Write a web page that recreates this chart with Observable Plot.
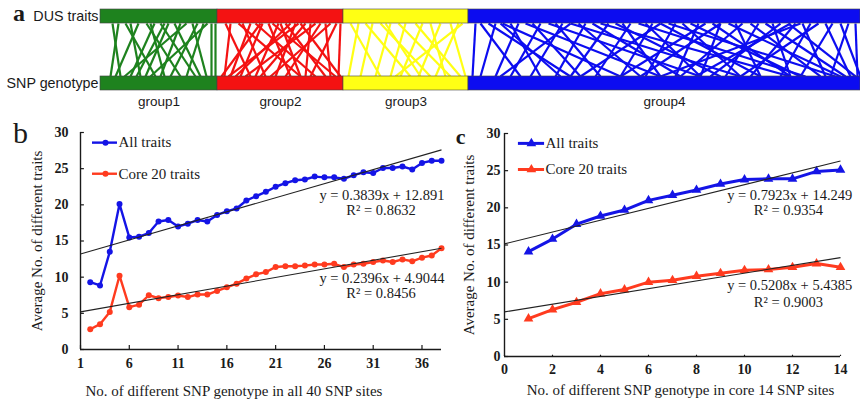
<!DOCTYPE html>
<html><head><meta charset="utf-8">
<script src="https://cdn.jsdelivr.net/npm/d3@7"></script>
<script src="https://cdn.jsdelivr.net/npm/@observablehq/plot@0.6"></script>
<style>
body{margin:0;background:#fff}
#fig{position:relative;width:860px;height:402px;overflow:hidden;background:#fff}
#fig > div{position:absolute}
</style></head><body>
<div id="fig"><div id="pa" style="left:0;top:0"></div><div id="pb" style="left:0;top:110px"></div><div id="pc" style="left:450px;top:110px"></div></div>
<script>
// ---------- Panel a data ----------
const groupNames = ["group1", "group2", "group3", "group4"];
const groupStart = [0, 117, 243, 368];
const groupEnd = [117, 243, 368, 760];
const groupColors = ["#1e821e", "#f41212", "#ffff14", "#0c0cf0"];
const rowLabels = ["DUS traits", "SNP genotype"];
// links: [position on DUS-trait bar, position on SNP-genotype bar]
const linksG1 = [[12,20],[18,10],[25,55],[30,40],[38,15],[46,80],[54,30],[60,95],[68,45],[74,100],[80,60],[86,24],[92,106],[97,70],[103,86],[107,50],[111,111],[115,115],[50,64],[64,36]];
const linksG2 = [[125,150],[130,124],[138,200],[142,165],[150,130],[155,215],[162,140],[168,190],[172,235],[178,155],[185,225],[190,135],[195,175],[200,240],[205,160],[210,205],[215,145],[220,185],[225,230],[230,170],[236,210],[240,238],[160,121],[180,200],[198,128]];
const linksG3 = [[250,280],[258,248],[265,310],[272,260],[280,330],[290,275],[298,350],[305,290],[315,360],[322,300],[330,345],[340,318],[350,365],[358,335],[362,295],[285,320]];
const linksG4 = [[375,372],[380,420],[388,470],[395,380],[402,520],[410,440],[418,395],[425,560],[432,480],[440,410],[448,600],[455,500],[462,430],[470,640],[478,540],[485,455],[492,580],[500,690],[508,470],[515,620],[522,560],[530,495],[538,705],[545,600],[552,520],[560,660],[568,735],[575,545],[582,640],[590,700],[598,575],[605,520],[612,690],[620,600],[628,740],[635,660],[642,580],[650,720],[658,625],[665,745],[672,690],[680,610],[688,755],[695,650],[702,725],[710,680],[718,640],[725,750],[732,700],[740,760],[748,730],[755,757],[400,460],[470,400],[560,480],[700,560],[620,540],[690,595]];

// ---------- Panel b data ----------
const snpCountB = [2,3,4,5,6,7,8,9,10,11,12,13,14,15,16,17,18,19,20,21,22,23,24,25,26,27,28,29,30,31,32,33,34,35,36,37,38];
const allTraitsB = [9.3,8.85,13.5,20.1,15.5,15.6,16.1,17.7,17.9,17.0,17.4,17.9,17.7,18.6,19.1,19.5,20.6,21.2,21.8,22.5,23.0,23.4,23.5,23.9,23.8,23.8,23.6,24.1,24.5,24.4,25.1,25.1,25.3,24.9,25.8,26.1,26.1];
const core20B = [2.8,3.5,5.2,10.2,5.85,6.2,7.5,7.1,7.25,7.45,7.25,7.6,7.6,8.1,8.6,9.1,9.8,10.4,10.7,11.4,11.5,11.5,11.6,11.75,11.75,11.85,11.4,11.75,11.85,12.1,12.3,12.1,12.45,12.2,12.7,13.0,14.0];
const xTicksB = [1,6,11,16,21,26,31,36];
const yTicks = [0,5,10,15,20,25,30];
const eqB = [{slope:"0.3839", intercept:"12.891", r2:"0.8632"}, {slope:"0.2396", intercept:"4.9044", r2:"0.8456"}];
const trendB = [{xa:1, ya:13.2, xb:38, yb:27.6}, {xa:1, ya:5.2, xb:38, yb:14.0}];

// ---------- Panel c data ----------
const snpCountC = [1,2,3,4,5,6,7,8,9,10,11,12,13,14];
const allTraitsC = [14.1,15.8,17.8,18.9,19.7,21.0,21.7,22.4,23.2,23.8,23.9,23.9,24.9,25.1];
const core20C = [5.1,6.3,7.3,8.45,9.0,10.0,10.25,10.8,11.2,11.6,11.7,12.0,12.5,12.0];
const xTicksC = [0,2,4,6,8,10,12,14];
const eqC = [{slope:"0.7923", intercept:"14.249", r2:"0.9354"}, {slope:"0.5208", intercept:"5.4385", r2:"0.9003"}];
const trendC = [{xa:0, ya:15.15, xb:14, yb:26.3}, {xa:0, ya:6.0, xb:14, yb:13.3}];

const seriesNames = ["All traits", "Core 20 traits"];
const seriesColors = ["#1414e6", "#ff3b1f"];
const yTitle = "Average No. of different traits";
const xTitleB = "No. of different SNP genotype in all 40 SNP sites";
const xTitleC = "No. of different SNP genotype in core 14 SNP sites";

const SERIF = "'Liberation Serif', 'Times New Roman', serif";
const SANS = "'Liberation Sans', Arial, sans-serif";
const INK = "#1a1a1a";
const MID = {textAnchor: "middle", lineAnchor: "middle"};

// ---------- Panel a ----------
const groups = groupNames.map((name, i) => ({name, start: groupStart[i], end: groupEnd[i], color: groupColors[i]}));
const links = [linksG1, linksG2, linksG3, linksG4].flatMap((ls, i) => ls.map(([t, b]) => ({top: t, bottom: b, color: groupColors[i]})));
const pa = Plot.plot({
  width: 860, height: 110, marginLeft: 100, marginRight: 0, marginTop: 9, marginBottom: 20,
  x: {domain: [0, 760], axis: null}, y: {domain: [0, 1], axis: null}, color: {type: "identity"},
  style: {fontFamily: SANS, fontSize: "13px", color: INK, background: "transparent", overflow: "visible"},
  marks: [
    Plot.link(links, {x1: "top", x2: "bottom", y1: () => 0.827, y2: () => 0.173, stroke: "color", strokeWidth: 2.2}),
    Plot.rect(groups, {x1: "start", x2: "end", y1: () => 0.827, y2: () => 1, fill: "color", stroke: "#444", strokeWidth: 0.6}),
    Plot.rect(groups, {x1: "start", x2: "end", y1: () => 0, y2: () => 0.173, fill: "color", stroke: "#444", strokeWidth: 0.6}),
    Plot.text(groups, {x: d => (d.start + d.end) / 2, y: () => 0, dy: 11, text: "name", fontSize: 13.5, fill: INK, ...MID}),
    Plot.text(rowLabels, {x: () => 0, y: (d, i) => i === 0 ? 0.913 : 0.087, text: d => d, textAnchor: "end", lineAnchor: "middle", dx: -2, fontSize: 14.3, fill: INK}),
    Plot.text(["a"], {frameAnchor: "top-left", text: d => d, dx: -81.5, dy: 4, fontSize: 24, fontWeight: "bold", fontFamily: SERIF, fill: INK, ...MID})
  ]
});
document.getElementById("pa").append(pa);

// ---------- helper for line panels ----------
function linePanel({x, seriesA, seriesB, xDomain, xTicks, margins, width, height, symbol, r, lw, trend, eq, eqPos, legendPos, xTitle, xTitleDx, xTitleDy, yTitleDx, letter, letterDx, letterDy, letterWeight, letterSize, tickPadX, tickPadY, tickLenX, tickLenY}) {
  const dataA = x.map((v, i) => ({x: v, y: seriesA[i]}));
  const dataB = x.map((v, i) => ({x: v, y: seriesB[i]}));
  const legend = seriesNames.map((label, i) => ({label, color: seriesColors[i]}));
  return Plot.plot({
    width, height, ...margins,
    x: {domain: xDomain}, y: {domain: [0, 30]},
    style: {fontFamily: SERIF, fontSize: "14px", color: INK, background: "transparent", overflow: "visible"},
    marks: [
      Plot.axisX({ticks: xTicks, tickSize: 0, tickPadding: tickPadX, fontWeight: "bold", fontSize: 14, label: null, tickFormat: d => String(d)}),
      Plot.axisY({ticks: yTicks, tickSize: 0, tickPadding: tickPadY, fontWeight: "bold", fontSize: 14, label: null, tickFormat: d => String(d)}),
      Plot.ruleX(xTicks, {x: d => d, y1: () => 0, y2: () => tickLenX, stroke: INK, strokeWidth: 1.2}),
      Plot.ruleY(yTicks, {y: d => d, x1: () => xDomain[0], x2: () => xDomain[0] + tickLenY, stroke: INK, strokeWidth: 1.2}),
      Plot.ruleY([0], {stroke: INK, strokeWidth: 1.4}),
      Plot.ruleX([xDomain[0]], {stroke: INK, strokeWidth: 1.4}),
      Plot.line(dataA, {x: "x", y: "y", stroke: seriesColors[0], strokeWidth: lw}),
      Plot.dot(dataA, {x: "x", y: "y", fill: seriesColors[0], r, symbol}),
      Plot.line(dataB, {x: "x", y: "y", stroke: seriesColors[1], strokeWidth: lw}),
      Plot.dot(dataB, {x: "x", y: "y", fill: seriesColors[1], r, symbol}),
      Plot.link(trend, {x1: "xa", y1: "ya", x2: "xb", y2: "yb", stroke: "#222", strokeWidth: 1.1}),
      // legend
      Plot.ruleY(legend, {y: (d, i) => legendPos.y[i], x1: () => legendPos.x1, x2: () => legendPos.x2, stroke: "color", strokeWidth: lw}),
      Plot.dot(legend, {x: () => legendPos.xm, y: (d, i) => legendPos.y[i], fill: "color", r, symbol}),
      Plot.text(legend, {x: () => legendPos.xt, y: (d, i) => legendPos.y[i], text: "label", textAnchor: "start", lineAnchor: "middle", fontSize: 15, fill: INK}),
      // equations
      Plot.text(eq, {x: () => eqPos.xe, y: (d, i) => eqPos.ye[i], text: d => `y = ${d.slope}x + ${d.intercept}`, textAnchor: "end", lineAnchor: "middle", dx: eqPos.dx, fontSize: 14.5, fill: INK}),
      Plot.text(eq, {x: () => eqPos.xr, y: (d, i) => eqPos.yr[i], text: d => `R² = ${d.r2}`, fontSize: 14.5, fill: INK, ...MID}),
      // titles
      Plot.text([xTitle], {frameAnchor: "bottom", text: d => d, dx: xTitleDx, dy: xTitleDy, fontSize: 15, fill: INK, ...MID}),
      Plot.text([yTitle], {frameAnchor: "left", text: d => d, rotate: -90, dx: yTitleDx, fontSize: 15, fill: INK, ...MID}),
      Plot.text([letter], {frameAnchor: "top-left", text: d => d, dx: letterDx, dy: letterDy, fontSize: letterSize, fontWeight: letterWeight, fill: INK, ...MID})
    ],
    color: {type: "identity"}
  });
}

const pb = linePanel({
  x: snpCountB, seriesA: allTraitsB, seriesB: core20B, xDomain: [1, 38], xTicks: xTicksB,
  margins: {marginLeft: 80, marginRight: 9, marginTop: 22, marginBottom: 53}, width: 450, height: 292,
  symbol: "circle", r: 3, lw: 2.4, trend: trendB, eq: eqB,
  eqPos: {xe: 38, dx: 3, ye: [21.3, 9.8], xr: 31.8, yr: [19.2, 7.7]},
  legendPos: {x1: 2.23, x2: 4.79, xm: 3.56, xt: 4.89, y: [28.6, 24.3]},
  xTitle: xTitleB, xTitleDx: -27, xTitleDy: 41.5, yTitleDx: -43,
  letter: "b", letterDx: -60, letterDy: 0.5, letterWeight: "normal", letterSize: 30,
  tickPadX: 9, tickPadY: 12, tickLenX: 0.55, tickLenY: 0.4
});
document.getElementById("pb").append(pb);

const pc = linePanel({
  x: snpCountC, seriesA: allTraitsC, seriesB: core20C, xDomain: [0, 14], xTicks: xTicksC,
  margins: {marginLeft: 54, marginRight: 20, marginTop: 23, marginBottom: 46}, width: 410, height: 292,
  symbol: "triangle", r: 3.6, lw: 3, trend: trendC, eq: eqC,
  eqPos: {xe: 14.49, dx: 0, ye: [21.7, 9.6], xr: 11.83, yr: [19.7, 7.3]},
  legendPos: {x1: 0.58, x2: 1.67, xm: 1.12, xt: 1.71, y: [28.67, 25.16]},
  xTitle: xTitleC, xTitleDx: 8, xTitleDy: 33.5, yTitleDx: -35,
  letter: "c", letterDx: -44, letterDy: 3.5, letterWeight: "bold", letterSize: 22,
  tickPadX: 8, tickPadY: 4, tickLenX: 0.17, tickLenY: 0.17
});
document.getElementById("pc").append(pc);
</script></body></html>
